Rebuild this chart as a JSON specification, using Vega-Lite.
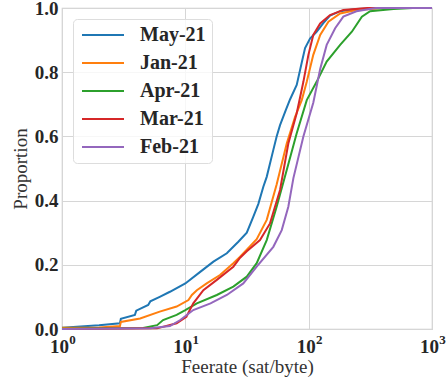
{
  "$schema": "https://vega.github.io/schema/vega-lite/v6.json",
  "width": 370,
  "height": 321,
  "autosize": {"type": "none"},
  "padding": {"left": 62, "top": 8, "right": 14, "bottom": 51},
  "background": "white",
  "config": {
    "font": "Liberation Serif",
    "view": {"stroke": "#cccccc", "strokeWidth": 1.2},
    "axis": {
      "grid": true, "gridColor": "#d6d6d6", "gridWidth": 1,
      "ticks": false, "domain": false,
      "labelFontSize": 19, "labelFontWeight": "bold", "labelColor": "#262626",
      "titleFontSize": 19, "titleFontWeight": "normal", "titleColor": "#333333"
    }
  },
  "data": {"values": [
    {"s":"May-21","x":1,"y":0.004},{"s":"May-21","x":2,"y":0.012},{"s":"May-21","x":2.95,"y":0.018},{"s":"May-21","x":3.0,"y":0.032},{"s":"May-21","x":3.9,"y":0.044},{"s":"May-21","x":4.0,"y":0.057},{"s":"May-21","x":5.0,"y":0.075},{"s":"May-21","x":5.2,"y":0.086},{"s":"May-21","x":6.2,"y":0.1},{"s":"May-21","x":7.5,"y":0.116},{"s":"May-21","x":10,"y":0.142},{"s":"May-21","x":13.2,"y":0.178},{"s":"May-21","x":16.9,"y":0.21},{"s":"May-21","x":21.7,"y":0.236},{"s":"May-21","x":26.9,"y":0.272},{"s":"May-21","x":31.5,"y":0.3},{"s":"May-21","x":35.6,"y":0.35},{"s":"May-21","x":39.1,"y":0.39},{"s":"May-21","x":42.9,"y":0.443},{"s":"May-21","x":45.7,"y":0.474},{"s":"May-21","x":51.7,"y":0.558},{"s":"May-21","x":55,"y":0.6},{"s":"May-21","x":58.6,"y":0.635},{"s":"May-21","x":65,"y":0.68},{"s":"May-21","x":70.6,"y":0.715},{"s":"May-21","x":80,"y":0.76},{"s":"May-21","x":87.9,"y":0.83},{"s":"May-21","x":93.5,"y":0.875},{"s":"May-21","x":102.6,"y":0.905},{"s":"May-21","x":116,"y":0.926},{"s":"May-21","x":131,"y":0.952},{"s":"May-21","x":149,"y":0.976},{"s":"May-21","x":180,"y":0.99},{"s":"May-21","x":244,"y":0.997},{"s":"May-21","x":400,"y":1.0},{"s":"May-21","x":1000,"y":1.0},
    {"s":"Jan-21","x":1,"y":0.004},{"s":"Jan-21","x":2,"y":0.005},{"s":"Jan-21","x":2.95,"y":0.009},{"s":"Jan-21","x":3.0,"y":0.022},{"s":"Jan-21","x":4.3,"y":0.033},{"s":"Jan-21","x":6.2,"y":0.054},{"s":"Jan-21","x":8.5,"y":0.07},{"s":"Jan-21","x":10.6,"y":0.09},{"s":"Jan-21","x":11.3,"y":0.106},{"s":"Jan-21","x":12.4,"y":0.121},{"s":"Jan-21","x":14.9,"y":0.142},{"s":"Jan-21","x":19.1,"y":0.168},{"s":"Jan-21","x":24.5,"y":0.205},{"s":"Jan-21","x":27.8,"y":0.225},{"s":"Jan-21","x":33.5,"y":0.258},{"s":"Jan-21","x":37.9,"y":0.28},{"s":"Jan-21","x":45.7,"y":0.34},{"s":"Jan-21","x":55,"y":0.45},{"s":"Jan-21","x":66.4,"y":0.578},{"s":"Jan-21","x":77.6,"y":0.661},{"s":"Jan-21","x":87.9,"y":0.713},{"s":"Jan-21","x":96.5,"y":0.77},{"s":"Jan-21","x":109,"y":0.854},{"s":"Jan-21","x":124,"y":0.916},{"s":"Jan-21","x":144.6,"y":0.957},{"s":"Jan-21","x":180,"y":0.983},{"s":"Jan-21","x":244,"y":0.994},{"s":"Jan-21","x":400,"y":1.0},{"s":"Jan-21","x":1000,"y":1.0},
    {"s":"Apr-21","x":1,"y":0.001},{"s":"Apr-21","x":4.55,"y":0.003},{"s":"Apr-21","x":5.9,"y":0.012},{"s":"Apr-21","x":6.6,"y":0.028},{"s":"Apr-21","x":8.5,"y":0.044},{"s":"Apr-21","x":10,"y":0.059},{"s":"Apr-21","x":12.4,"y":0.08},{"s":"Apr-21","x":18,"y":0.106},{"s":"Apr-21","x":24.5,"y":0.132},{"s":"Apr-21","x":31.5,"y":0.163},{"s":"Apr-21","x":37.9,"y":0.205},{"s":"Apr-21","x":45.7,"y":0.277},{"s":"Apr-21","x":55,"y":0.381},{"s":"Apr-21","x":66.4,"y":0.495},{"s":"Apr-21","x":80,"y":0.61},{"s":"Apr-21","x":96.5,"y":0.713},{"s":"Apr-21","x":116,"y":0.77},{"s":"Apr-21","x":140,"y":0.833},{"s":"Apr-21","x":180,"y":0.885},{"s":"Apr-21","x":224,"y":0.926},{"s":"Apr-21","x":270,"y":0.973},{"s":"Apr-21","x":315,"y":0.99},{"s":"Apr-21","x":487,"y":0.997},{"s":"Apr-21","x":700,"y":1.0},{"s":"Apr-21","x":1000,"y":1.0},
    {"s":"Mar-21","x":1,"y":0.0},{"s":"Mar-21","x":5.9,"y":0.002},{"s":"Mar-21","x":8.5,"y":0.018},{"s":"Mar-21","x":10.2,"y":0.038},{"s":"Mar-21","x":11.6,"y":0.08},{"s":"Mar-21","x":14,"y":0.121},{"s":"Mar-21","x":18,"y":0.153},{"s":"Mar-21","x":24.5,"y":0.194},{"s":"Mar-21","x":27.8,"y":0.222},{"s":"Mar-21","x":31.5,"y":0.242},{"s":"Mar-21","x":40.3,"y":0.277},{"s":"Mar-21","x":48.6,"y":0.329},{"s":"Mar-21","x":58.6,"y":0.433},{"s":"Mar-21","x":68.4,"y":0.578},{"s":"Mar-21","x":80,"y":0.672},{"s":"Mar-21","x":90.6,"y":0.77},{"s":"Mar-21","x":99.5,"y":0.854},{"s":"Mar-21","x":109,"y":0.916},{"s":"Mar-21","x":124,"y":0.952},{"s":"Mar-21","x":149,"y":0.978},{"s":"Mar-21","x":191,"y":0.994},{"s":"Mar-21","x":300,"y":1.0},{"s":"Mar-21","x":1000,"y":1.0},
    {"s":"Feb-21","x":1,"y":0.0},{"s":"Feb-21","x":5.2,"y":0.002},{"s":"Feb-21","x":7.5,"y":0.009},{"s":"Feb-21","x":9.1,"y":0.028},{"s":"Feb-21","x":11.6,"y":0.059},{"s":"Feb-21","x":16,"y":0.08},{"s":"Feb-21","x":21.7,"y":0.106},{"s":"Feb-21","x":29.5,"y":0.142},{"s":"Feb-21","x":37.9,"y":0.194},{"s":"Feb-21","x":51.7,"y":0.256},{"s":"Feb-21","x":60.5,"y":0.308},{"s":"Feb-21","x":68.4,"y":0.381},{"s":"Feb-21","x":75.2,"y":0.47},{"s":"Feb-21","x":90.6,"y":0.6},{"s":"Feb-21","x":109,"y":0.705},{"s":"Feb-21","x":124,"y":0.81},{"s":"Feb-21","x":140,"y":0.885},{"s":"Feb-21","x":164,"y":0.937},{"s":"Feb-21","x":191,"y":0.973},{"s":"Feb-21","x":244,"y":0.99},{"s":"Feb-21","x":350,"y":1.0},{"s":"Feb-21","x":1000,"y":1.0}
  ]},
  "layer": [
    {
      "mark": {"type": "line", "strokeWidth": 2, "clip": false},
      "encoding": {
        "x": {
          "field": "x", "type": "quantitative",
          "scale": {"type": "log", "domain": [1, 1000], "nice": false},
          "axis": {
            "title": "Feerate (sat/byte)", "values": [1, 10, 100, 1000],
            "labelExpr": "'10'", "labelOffset": -3,
            "labelFlush": false, "labelBaseline": "alphabetic", "labelPadding": 23,
            "titleBaseline": "alphabetic", "titleY": 43
          }
        },
        "y": {
          "field": "y", "type": "quantitative",
          "scale": {"domain": [0, 1], "nice": false},
          "axis": {
            "title": "Proportion", "values": [0, 0.2, 0.4, 0.6, 0.8, 1.0],
            "format": ".1f", "labelPadding": 4, "titlePadding": 4
          }
        },
        "color": {
          "field": "s", "type": "nominal",
          "sort": ["May-21", "Jan-21", "Apr-21", "Mar-21", "Feb-21"],
          "scale": {
            "domain": ["May-21", "Jan-21", "Apr-21", "Mar-21", "Feb-21"],
            "range": ["#1f77b4", "#ff7f0e", "#2ca02c", "#d62728", "#9467bd"]
          },
          "legend": {
            "title": null, "orient": "top-left", "offset": 11,
            "symbolType": "M-1,0H5", "symbolSize": 196, "symbolStrokeWidth": 2.2,
            "labelFontSize": 20, "labelFontWeight": "bold", "labelColor": "#262626",
            "labelOffset": 41, "rowPadding": 8, "padding": 6,
            "strokeColor": "#dddddd", "fillColor": "rgba(255,255,255,0.8)", "cornerRadius": 4
          }
        }
      }
    },
    {
      "mark": {"type": "line", "opacity": 0},
      "encoding": {
        "x": {
          "field": "x", "type": "quantitative",
          "scale": {"type": "log", "domain": [1, 1000], "nice": false},
          "axis": {
            "orient": "bottom", "title": null, "grid": false, "values": [1, 10, 100, 1000],
            "labelExpr": "datum.value == 1 ? '0' : datum.value == 10 ? '1' : datum.value == 100 ? '2' : '3'",
            "labelFontSize": 13, "labelOffset": 10,
            "labelFlush": false, "labelBaseline": "alphabetic", "labelPadding": 14
          }
        },
        "y": {
          "field": "y", "type": "quantitative",
          "scale": {"domain": [0, 1], "nice": false},
          "axis": null
        }
      }
    }
  ],
  "resolve": {"axis": {"x": "independent", "y": "independent"}}
}
